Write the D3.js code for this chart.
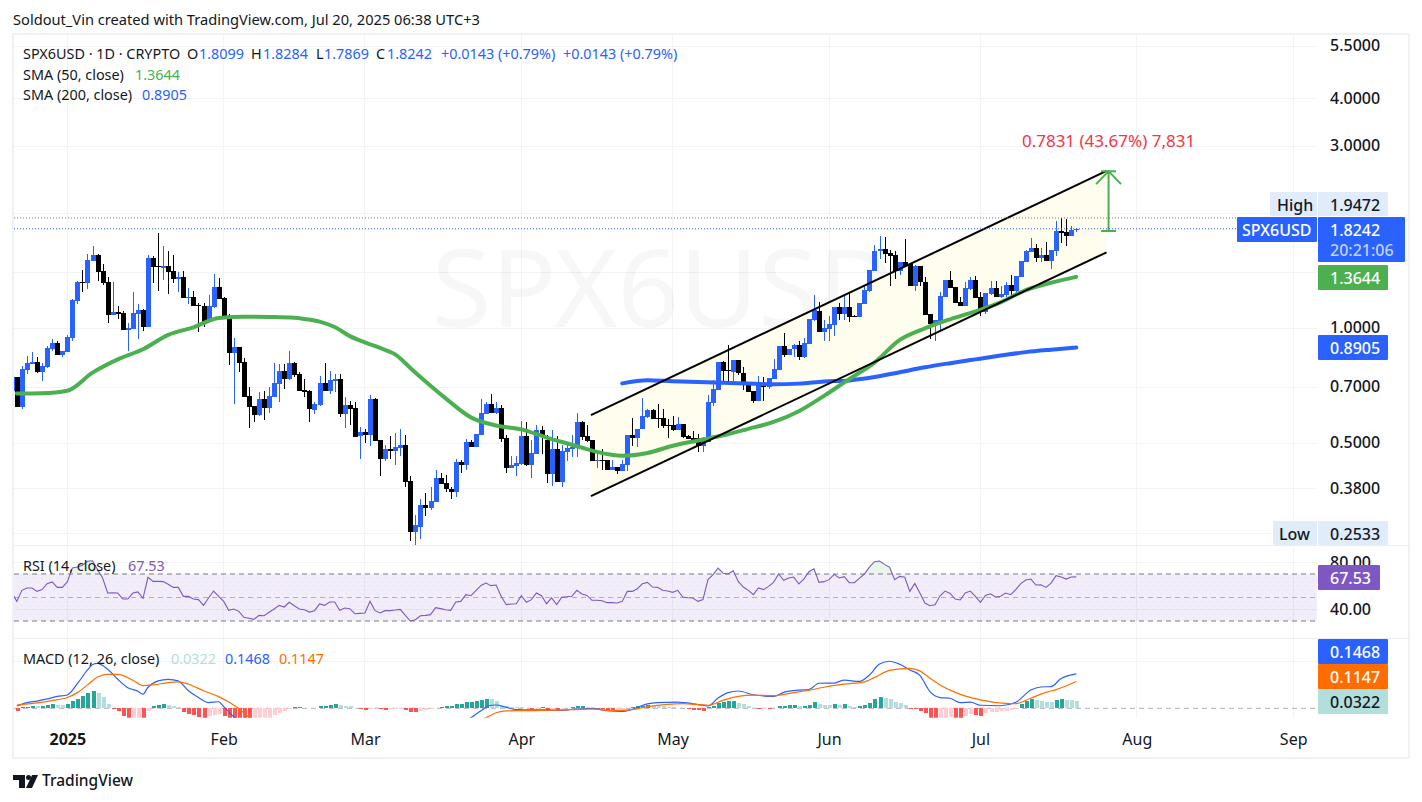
<!DOCTYPE html>
<html>
<head>
<meta charset="utf-8">
<title>SPX6USD</title>
<script src="https://cdn.jsdelivr.net/npm/d3@7"></script>
<style>
  html, body { margin: 0; padding: 0; background: #fff; }
  svg { display: block; }
  text { font-family: "Noto Sans", sans-serif; fill: #131722; }
</style>
</head>
<body>
<svg id="chart" width="1422" height="802"></svg>
<script>
// daily candles, Dec 21 2024 to Jul 20 2025
const firstCandle = new Date(Date.UTC(2024, 11, 21));

const opens = [
  .686,.747,.623,.779,.808,.816,.768,.791,.882,.915,
  .853,.867,.945,1.179,1.323,1.315,1.504,1.556,1.413,1.323,
  1.084,1.103,1.097,.992,.996,1.090,1.117,1.008,1.529,1.457,
  1.440,1.457,1.413,1.347,1.362,1.201,1.208,1.151,1.144,1.045,
  1.137,1.283,1.201,1.057,.861,.893,.816,.665,.626,.592,
  .653,.618,.660,.714,.773,.736,.811,.759,.689,.685,
  .611,.629,.719,.685,.728,.736,.596,.629,.618,.522,
  .534,.525,.653,.510,.455,.483,.477,.486,.495,.398,
  .293,.302,.343,.337,.350,.406,.394,.380,.371,.447,
  .438,.504,.489,.525,.596,.633,.599,.618,.516,.431,
  .436,.441,.522,.438,.469,.541,.510,.415,.483,.396,
  .474,.483,.486,.568,.522,.510,.449,.452,.452,.426,
  .433,.423,.438,.525,.516,.544,.585,.611,.582,.582,
  .557,.557,.541,.561,.522,.516,.516,.492,.504,.637,
  .689,.816,.777,.768,.826,.763,.714,.685,.645,.719,
  .702,.736,.777,.899,.851,.882,.904,.841,.909,1.051,
  1.110,.978,.996,1.020,1.139,1.090,1.139,1.077,1.073,1.158,
  1.253,1.413,1.595,1.614,1.575,1.556,1.413,1.492,1.474,1.291,
  1.457,1.323,1.090,1.026,1.045,1.208,1.338,1.283,1.171,1.144,
  1.268,1.338,1.208,1.103,1.230,1.276,1.208,1.223,1.299,1.253,
  1.362,1.492,1.585,1.624,1.529,1.556,1.501,1.595,1.799,1.788,
  1.746,1.8099
];
const highs = [
  .747,.747,.798,.848,.867,.841,.809,.899,.936,.926,
  .872,.961,1.193,1.331,1.422,1.566,1.644,1.566,1.474,1.362,
  1.323,1.144,1.110,1.032,1.245,1.158,1.124,1.556,1.547,1.779,
  1.644,1.595,1.556,1.405,1.413,1.276,1.253,1.165,1.165,1.223,
  1.388,1.354,1.208,1.090,.943,.893,.836,.702,.626,.681,
  .685,.702,.811,.806,.806,.872,.816,.768,.736,.689,
  .641,.750,.811,.773,.759,.759,.660,.645,.641,.551,
  .544,.668,.657,.510,.495,.522,.531,.544,.525,.411,
  .323,.356,.369,.383,.426,.418,.413,.384,.455,.452,
  .513,.510,.528,.653,.641,.672,.641,.629,.525,.463,
  .463,.571,.568,.510,.557,.554,.525,.541,.522,.495,
  .495,.525,.599,.571,.557,.510,.480,.483,.452,.452,
  .433,.452,.525,.582,.544,.657,.615,.615,.633,.615,
  .579,.588,.585,.561,.525,.538,.528,.519,.668,.732,
  .816,.821,.904,.826,.826,.791,.714,.685,.750,.745,
  .741,.831,.899,.972,.882,.909,.926,.943,1.057,1.223,
  1.171,1.051,1.077,1.139,1.163,1.223,1.235,1.084,1.163,1.299,
  1.422,1.654,1.742,1.732,1.604,1.595,1.492,1.715,1.474,1.465,
  1.457,1.362,1.090,1.051,1.245,1.338,1.413,1.283,1.208,1.323,
  1.362,1.370,1.245,1.238,1.331,1.331,1.291,1.323,1.379,1.370,
  1.501,1.604,1.725,1.664,1.624,1.684,1.604,1.911,1.9472,1.935,
  1.854,1.8284
];
const lows = [
  .686,.623,.616,.757,.808,.765,.729,.785,.873,.853,
  .841,.867,.928,1.158,1.245,1.268,1.501,1.331,1.299,1.035,
  1.084,1.057,.990,.872,.996,.936,.984,1.008,1.315,1.253,
  1.338,1.230,1.315,1.245,1.201,1.158,1.144,.978,1.008,1.045,
  1.130,1.193,1.057,.801,.633,.768,.660,.547,.568,.589,
  .575,.600,.660,.641,.693,.732,.745,.685,.660,.568,
  .596,.626,.685,.672,.681,.585,.547,.557,.519,.455,
  .501,.492,.507,.411,.449,.455,.438,.463,.384,.276,
  .2533,.281,.321,.333,.350,.391,.371,.356,.360,.418,
  .426,.489,.489,.525,.596,.599,.596,.504,.418,.431,
  .411,.438,.436,.406,.469,.469,.394,.387,.396,.383,
  .449,.460,.460,.510,.504,.449,.431,.426,.426,.426,
  .415,.423,.423,.490,.489,.544,.582,.579,.547,.547,
  .516,.538,.541,.516,.513,.510,.474,.474,.504,.626,
  .689,.723,.719,.723,.755,.689,.681,.637,.645,.645,
  .693,.736,.777,.840,.851,.840,.826,.835,.909,1.045,
  .978,.926,.926,.955,1.051,1.051,1.041,1.071,1.073,1.158,
  1.245,1.413,1.516,1.487,1.291,1.347,1.379,1.457,1.291,1.253,
  1.291,1.084,.936,.926,.978,1.208,1.276,1.165,1.144,1.144,
  1.260,1.201,1.077,1.090,1.223,1.208,1.201,1.208,1.223,1.230,
  1.362,1.492,1.585,1.492,1.492,1.501,1.431,1.547,1.670,1.644,
  1.746,1.7869
];
const closes = [
  .747,.623,.782,.811,.816,.768,.796,.888,.915,.853,
  .872,.949,1.188,1.323,1.317,1.510,1.556,1.405,1.315,1.084,
  1.103,1.090,.990,1.002,1.097,1.117,1.008,1.529,1.451,1.448,
  1.457,1.405,1.347,1.362,1.201,1.208,1.144,1.144,1.039,1.144,
  1.283,1.193,1.070,.861,.893,.811,.660,.622,.592,.653,
  .618,.665,.719,.773,.736,.811,.755,.685,.681,.615,
  .633,.719,.685,.732,.736,.596,.629,.615,.519,.534,
  .525,.653,.507,.455,.483,.477,.489,.495,.396,.293,
  .304,.343,.337,.352,.406,.391,.378,.371,.447,.438,
  .504,.489,.528,.599,.633,.599,.618,.513,.431,.438,
  .444,.522,.438,.472,.541,.525,.415,.483,.396,.477,
  .486,.489,.568,.519,.507,.449,.452,.449,.426,.432,
  .423,.441,.525,.516,.544,.588,.611,.579,.579,.554,
  .554,.541,.561,.519,.513,.510,.492,.516,.641,.693,
  .816,.773,.773,.826,.762,.710,.681,.645,.719,.702,
  .741,.782,.899,.851,.882,.904,.841,.915,1.057,1.117,
  .978,1.000,1.026,1.139,1.090,1.139,1.073,1.071,1.163,1.260,
  1.422,1.595,1.614,1.566,1.547,1.413,1.492,1.457,1.291,1.457,
  1.320,1.084,1.026,1.051,1.215,1.338,1.276,1.165,1.144,1.276,
  1.338,1.201,1.124,1.238,1.276,1.208,1.230,1.299,1.253,1.370,
  1.501,1.595,1.624,1.529,1.556,1.501,1.604,1.799,1.778,1.746,
  1.810,1.8242
];

// one value per candle
const rsiValues = [
  53.8,46.7,56.1,58.1,58.1,55.2,56.7,61.8,63.2,58.6,
  58.6,63.2,75.1,75.9,77.4,80.8,81.3,73.7,66.6,53.8,
  54.1,53.8,48.7,48.7,53.8,54.7,49.3,67.2,63.7,63.7,
  63.5,61.2,58.6,58.6,51,51,48.7,48.2,43.3,49.6,
  55.5,51,46.7,39.1,40.2,38.2,33.1,32.3,31.4,34.8,
  34.5,37.4,40.2,43.3,41.9,45.9,43,40.2,39.6,37.6,
  38.8,44.5,43.3,46.2,46.2,39.1,41,40.5,36.2,36.5,
  36.8,46.7,38.8,36.8,38.8,38.8,39.3,39.9,34.8,30,
  31.1,34.5,34.8,35.4,41.3,40.5,39.6,39.1,46.2,46.7,
  52.4,51.5,55.8,60.3,62.3,60.1,60.6,51,43.9,44.5,
  44.7,51.5,45.9,48.2,53.8,51.5,44.7,49.6,43.9,50.1,
  50.7,51,56.1,53,51.8,47.6,47.6,47.3,45.6,45.6,
  45.3,46.7,55.2,55.2,57.5,61.8,62.9,58.9,58.6,56.1,
  55.5,54.4,56.1,50.4,49.8,49.6,46.7,48.2,65.2,69.4,
  75.1,70.6,70,72.8,63.7,58.9,56.1,52.4,58.1,56.7,
  59.5,62.9,70,64.6,66.6,67.4,61.5,65.7,72,74.5,
  62.9,63.5,65.2,69.7,66.6,67.7,62.6,62.6,66.3,70,
  75.9,80.5,81,78.2,75.7,65.2,68,67.2,55.2,62,
  53.8,45.3,43,43.9,51.5,55.5,53.5,48.7,47.9,53.8,
  55.5,51,45.9,51.8,53.2,50.4,51,53.8,52.4,56.7,
  61.8,64.9,65.7,60.6,60.9,58.6,62.3,68.6,67.4,65.7,
  67.4,67.53
];
const histValues = [
  0,-.011,.004,.006,.010,.009,.011,.013,.017,.016,
  .014,.019,.030,.041,.054,.067,.074,.067,.048,.019,
  -.002,-.011,-.031,-.045,-.042,-.040,-.05,-.012,.010,.014,
  .019,.016,.010,.004,-.014,-.023,-.028,-.037,-.042,-.031,
  -.028,-.026,-.031,-.05,-.06,-.07,-.08,-.09,-.08,-.07,
  -.06,-.05,-.029,-.021,-.011,-.002,.004,.006,.003,.003,
  .002,.010,.011,.014,.019,.013,.010,.009,.002,-.004,
  -.007,-.002,.003,-.005,-.006,-.003,-.002,-.001,-.006,-.015,
  -.016,-.012,-.008,-.004,.001,.004,.008,.010,.019,.020,
  .027,.028,.031,.037,.040,.039,.031,.011,.008,.007,
  .005,.004,.001,-.004,-.001,.006,-.006,-.005,-.008,-.003,
  .001,.004,.008,.009,.007,.004,-.002,-.004,-.008,-.009,
  -.008,-.006,.003,.005,.008,.011,.015,.011,.009,.008,
  .006,.005,.003,.002,-.003,-.006,-.009,-.012,.005,.010,
  .021,.029,.030,.031,.021,.017,.010,.002,-.001,-.001,
  -.004,.002,.010,.011,.013,.014,.009,.010,.016,.027,
  .018,.016,.015,.019,.016,.017,.008,.006,.009,.014,
  .023,.040,.047,.046,.040,.029,.021,.013,-.001,-.005,
  -.011,-.021,-.040,-.042,-.041,-.040,-.039,-.042,-.045,-.035,
  -.024,-.028,-.032,-.019,-.016,-.014,-.012,-.010,-.008,-.001,
  .017,.030,.040,.034,.031,.028,.027,.036,.039,.035,
  .034,.0322
];

// lines read at sample days, counted from Jan 1 2025
const sma50Days = [-10,-5,0,5,10,15,20,25,30,35,40,45,47,50,53,56,59,62,65,68,70,75,80,85,90,95,100,103,105,110,115,120,125,130,135,140,145,150,155,160,165,170,175,180,185,190,195,200];
const sma50Values = [.675,.676,.686,.765,.829,.881,.961,1.006,1.064,1.073,1.071,1.066,1.058,1.041,1.008,.954,.918,.888,.854,.787,.745,.655,.584,.556,.543,.517,.495,.482,.474,.463,.471,.492,.508,.524,.545,.568,.606,.665,.736,.813,.932,1.000,1.056,1.107,1.170,1.260,1.317,1.3644];

const sma200Days = [110,115,120,125,130,135,140,145,150,155,160,165,170,175,180,185,190,195,200];
const sma200Values = [.717,.731,.726,.723,.720,.716,.713,.716,.725,.730,.745,.767,.790,.810,.829,.848,.866,.879,.8905];

const macdDays = [-10,-8,-6,-4,-2,0,2,4,5,6,8,10,12,14,15,16,18,20,22,24,26,28,30,31,33,35,40,45,50,55,60,65,70,75,78,80,82,84,85,87,89,92,95,98,100,104,107,110,112,115,117,121,125,127,129,131,133,136,140,142,145,147,149,152,154,157,159,161,163,165,167,169,171,173,175,177,179,181,185,188,191,193,195,197,200];
const macdValues = [.010,.024,.031,.040,.051,.057,.105,.164,.187,.192,.167,.124,.088,.073,.060,.090,.117,.124,.117,.075,.046,.024,.028,.007,-.036,-.071,-.12,-.13,-.12,-.11,-.11,-.10,-.11,-.09,-.06,-.040,-.010,.013,.014,.004,-.006,-.007,-.007,-.009,-.004,-.001,-.010,-.013,-.004,.019,.024,.026,.016,.010,.044,.067,.074,.058,.051,.068,.078,.080,.107,.108,.120,.115,.142,.189,.201,.188,.164,.141,.071,.046,.043,.024,.026,.013,.011,.026,.078,.091,.093,.127,.1468];

const signalDays = [-10,-6,-3,0,2,4,6,8,10,13,15,17,20,22,24,27,30,32,34,36,40,45,50,60,70,75,80,83,85,87,90,95,100,104,108,112,115,119,122,127,130,133,136,140,144,147,150,154,158,160,163,167,169,171,173,176,181,186,188,191,194,196,200];
const signalValues = [.014,.023,.033,.046,.067,.100,.134,.145,.145,.120,.097,.100,.110,.113,.103,.075,.050,.027,-.001,-.038,-.09,-.11,-.11,-.105,-.10,-.09,-.06,-.04,-.019,-.011,-.010,-.009,-.006,-.003,-.010,-.006,.007,.017,.020,.013,.034,.051,.056,.054,.067,.077,.090,.103,.113,.132,.162,.171,.160,.128,.100,.068,.036,.021,.020,.044,.068,.080,.1147];

// drawing: rising channel and the measured arrow
const channelDays = [103.8, 206];
const channelUpper = [.592, 2.586];
const channelLower = [.363, 1.582];
const arrowDay = 206.4;
const arrowBase = 1.80;
const arrowTip = 2.583;

const priceTicks = [5.5, 4, 3, 1, .7, .5, .38];
const priceGrid = [5.5, 4, 3, 2, 1.4, 1, .7, .5, .38, .29];
const monthStarts = [0, 1, 2, 3, 4, 5, 6, 7, 8].map((m) => new Date(Date.UTC(2025, m, 1)));
const monthLabels = ['2025', 'Feb', 'Mar', 'Apr', 'May', 'Jun', 'Jul', 'Aug', 'Sep'];

const lastClose = 1.8242;
const highValue = 1.9472;

const blue = '#2962ff';
const green = '#4caf50';
const purple = '#7e57c2';
const orange = '#ff6d00';
const paleTeal = '#b2dfdb';
const gridColor = '#f2f3f5';

const plotLeft = 14;
const plotRight = 1317;
const mainPane = { top: 35, bottom: 545 };
const rsiPane = { top: 546, bottom: 638 };
const macdPane = { top: 639, bottom: 717.7 };

const svg = d3.select('#chart');
const defs = svg.append('defs');

const x = d3.scaleUtc().domain([monthStarts[0], monthStarts[8]]).range([67.3, 1293.2]);
const y = d3.scaleLog().domain([1, 5.5]).range([328.3, 46]);
const rsiY = d3.scaleLinear().domain([30, 70]).range([621, 574]);
const macdY = d3.scaleLinear().domain([0, .2]).range([708.3, 661.5]);

// d3.utcDay.offset drops fractions, the channel ends fall between days
const dayDate = (d) => new Date(+monthStarts[0] + d * 864e5);
const candleDate = (i) => d3.utcDay.offset(firstCandle, i);

function addClip(id, pane) {
  defs.append('clipPath').attr('id', id)
    .append('rect')
    .attr('x', plotLeft).attr('y', pane.top)
    .attr('width', plotRight - plotLeft).attr('height', pane.bottom - pane.top);
}
addClip('clip-main', mainPane);
addClip('clip-rsi', rsiPane);
addClip('clip-macd', macdPane);

const dots = defs.append('pattern').attr('id', 'rsi-dots')
  .attr('width', 8).attr('height', 8).attr('patternUnits', 'userSpaceOnUse');
dots.append('circle').attr('cx', 2).attr('cy', 2).attr('r', .6).attr('fill', '#7e57c2').attr('opacity', .18);
dots.append('circle').attr('cx', 6).attr('cy', 6).attr('r', .6).attr('fill', '#7e57c2').attr('opacity', .18);

function hLine(group, yPos, color, dash, x2) {
  return group.append('line')
    .attr('x1', plotLeft).attr('x2', x2 || plotRight)
    .attr('y1', yPos).attr('y2', yPos)
    .attr('stroke', color).attr('stroke-width', 1)
    .attr('stroke-dasharray', dash || null);
}

function label(str, px, py, opts) {
  const o = opts || {};
  return svg.append('text')
    .attr('x', px).attr('y', py)
    .attr('text-anchor', o.anchor || 'start')
    .attr('font-size', o.size || 14.4)
    .attr('font-weight', o.weight || 400)
    .style('fill', o.fill || '#131722')
    .text(str);
}

// grid
const grid = svg.append('g').attr('shape-rendering', 'crispEdges');
priceGrid.forEach((v) => hLine(grid, y(v), gridColor));
[80, 40].forEach((v) => hLine(grid, rsiY(v), gridColor));
hLine(grid, macdY(.2), gridColor);
grid.selectAll('line.month')
  .data(monthStarts)
  .enter()
  .append('line')
  .attr('class', 'month')
  .attr('x1', (d) => x(d)).attr('x2', (d) => x(d))
  .attr('y1', mainPane.top).attr('y2', macdPane.bottom)
  .attr('stroke', gridColor);

// frame and pane separators
const frame = svg.append('g').attr('shape-rendering', 'crispEdges');
frame.append('rect')
  .attr('x', 13).attr('y', 34).attr('width', 1396).attr('height', 723.5)
  .attr('fill', 'none').attr('stroke', '#f0f1f3').attr('stroke-width', 2);
[mainPane.bottom, rsiPane.bottom].forEach((v) => hLine(frame, v, '#eceef1', null, 1409));

// watermark
label('SPX6USD', 664, 327, { anchor: 'middle', size: 108, fill: 'rgba(19,23,34,0.035)' });

// channel fill
const channelPoints = channelDays.map((d, i) => [x(dayDate(d)), y(channelUpper[i])])
  .concat(channelDays.map((d, i) => [x(dayDate(d)), y(channelLower[i])]).reverse());
svg.append('path')
  .attr('d', d3.line()(channelPoints) + 'Z')
  .attr('fill', '#fffdee');

// candles
const candles = opens.map((o, i) => ({
  date: candleDate(i), open: o, high: highs[i], low: lows[i], close: closes[i]
}));
const candleLayer = svg.append('g')
  .attr('clip-path', 'url(#clip-main)')
  .attr('shape-rendering', 'crispEdges');
const candleColor = (d) => (d.close >= d.open ? blue : '#000000');

candleLayer.selectAll('line')
  .data(candles)
  .enter()
  .append('line')
  .attr('x1', (d) => Math.round(x(d.date)) + .5)
  .attr('x2', (d) => Math.round(x(d.date)) + .5)
  .attr('y1', (d) => y(d.high))
  .attr('y2', (d) => y(d.low))
  .attr('stroke', candleColor);

candleLayer.selectAll('rect')
  .data(candles)
  .enter()
  .append('rect')
  .attr('x', (d) => Math.round(x(d.date)) - 2)
  .attr('width', 5)
  .attr('y', (d) => y(Math.max(d.open, d.close)))
  .attr('height', (d) => Math.max(1, Math.abs(y(d.open) - y(d.close))))
  .attr('fill', candleColor);

// moving averages
const priceLine = d3.line()
  .x((d) => x(dayDate(d[0])))
  .y((d) => y(d[1]))
  .curve(d3.curveMonotoneX);

const mainLines = svg.append('g').attr('clip-path', 'url(#clip-main)').attr('fill', 'none');
mainLines.append('path')
  .attr('d', priceLine(d3.zip(sma200Days, sma200Values)))
  .attr('stroke', blue).attr('stroke-width', 4).attr('stroke-linecap', 'round');
mainLines.append('path')
  .attr('d', priceLine(d3.zip(sma50Days, sma50Values)))
  .attr('stroke', green).attr('stroke-width', 4).attr('stroke-linecap', 'round');

// channel lines
[channelUpper, channelLower].forEach((edge) => {
  mainLines.append('line')
    .attr('x1', x(dayDate(channelDays[0]))).attr('y1', y(edge[0]))
    .attr('x2', x(dayDate(channelDays[1]))).attr('y2', y(edge[1]))
    .attr('stroke', '#000000').attr('stroke-width', 2);
});

// measured arrow
const arrowX = x(dayDate(arrowDay));
const tipY = y(arrowTip);
const baseY = y(arrowBase);
const arrowPath = d3.path();
arrowPath.moveTo(arrowX, tipY);
arrowPath.lineTo(arrowX, baseY);
arrowPath.moveTo(arrowX - 7.5, baseY);
arrowPath.lineTo(arrowX + 7.5, baseY);
arrowPath.moveTo(arrowX - 7.5, tipY);
arrowPath.lineTo(arrowX + 7.5, tipY);
arrowPath.moveTo(arrowX - 12.5, tipY + 13);
arrowPath.lineTo(arrowX, tipY);
arrowPath.lineTo(arrowX + 12.5, tipY + 13);
svg.append('path')
  .attr('d', arrowPath.toString())
  .attr('fill', 'none').attr('stroke', green).attr('stroke-width', 2);
label('0.7831 (43.67%) 7,831', arrowX, 147, { anchor: 'middle', size: 17, fill: '#f23645' });

// high and last price lines
hLine(svg, y(highValue), '#787b86', '1 2');
hLine(svg, y(lastClose), blue, '1 2');

// RSI pane
const rsiLayer = svg.append('g').attr('clip-path', 'url(#clip-rsi)');
rsiLayer.append('rect')
  .attr('x', plotLeft).attr('width', plotRight - plotLeft)
  .attr('y', rsiY(70)).attr('height', rsiY(30) - rsiY(70))
  .attr('fill', 'rgba(126,87,194,0.1)');
rsiLayer.append('rect')
  .attr('x', plotLeft).attr('width', plotRight - plotLeft)
  .attr('y', rsiY(70)).attr('height', rsiY(30) - rsiY(70))
  .attr('fill', 'url(#rsi-dots)');
hLine(rsiLayer, rsiY(70), '#787b86', '5 4');
hLine(rsiLayer, rsiY(50), '#adb0b8', '5 4');
hLine(rsiLayer, rsiY(30), '#787b86', '5 4');

defs.append('clipPath').attr('id', 'clip-over')
  .append('rect')
  .attr('x', plotLeft).attr('y', rsiPane.top)
  .attr('width', plotRight - plotLeft).attr('height', rsiY(70) - rsiPane.top);
rsiLayer.append('path')
  .datum(rsiValues)
  .attr('clip-path', 'url(#clip-over)')
  .attr('fill', 'rgba(76,175,80,0.13)')
  .attr('d', d3.area()
    .x((d, i) => x(candleDate(i)))
    .y0(rsiY(70))
    .y1((d) => rsiY(d)));
rsiLayer.append('path')
  .datum(rsiValues)
  .attr('fill', 'none')
  .attr('stroke', purple).attr('stroke-width', 1.1)
  .attr('d', d3.line()
    .x((d, i) => x(candleDate(i)))
    .y((d) => rsiY(d)));

// MACD pane
const macdLayer = svg.append('g').attr('clip-path', 'url(#clip-macd)');
hLine(macdLayer, macdY(0), '#adb0b8', '5 4');

const histColor = (v, i) => {
  const prev = i > 0 ? histValues[i - 1] : 0;
  if (v >= 0) return v > prev ? '#26a69a' : paleTeal;
  return v < prev ? '#ff5252' : '#ffcdd2';
};
macdLayer.append('g')
  .attr('shape-rendering', 'crispEdges')
  .selectAll('rect')
  .data(histValues)
  .enter()
  .append('rect')
  .attr('x', (d, i) => Math.round(x(candleDate(i))) - 1.5)
  .attr('width', 4)
  .attr('y', (d) => Math.min(macdY(d), macdY(0)))
  .attr('height', (d) => Math.abs(macdY(d) - macdY(0)))
  .attr('fill', histColor);

const macdLine = d3.line()
  .x((d) => x(dayDate(d[0])))
  .y((d) => macdY(d[1]))
  .curve(d3.curveMonotoneX);
macdLayer.append('path')
  .attr('d', macdLine(d3.zip(macdDays, macdValues)))
  .attr('fill', 'none').attr('stroke', blue).attr('stroke-width', 1.2);
macdLayer.append('path')
  .attr('d', macdLine(d3.zip(signalDays, signalValues)))
  .attr('fill', 'none').attr('stroke', orange).attr('stroke-width', 1.2);

// axes
const axisText = (g, size) => {
  g.select('.domain').remove();
  g.selectAll('text').attr('font-size', size).attr('font-weight', 500).style('fill', '#131722');
};
const priceAxis = d3.axisRight(y)
  .tickValues(priceTicks)
  .tickSize(0).tickPadding(12)
  .tickFormat(d3.format('.4f'));
svg.append('g')
  .attr('transform', `translate(${plotRight + 1},-0.5)`)
  .call(priceAxis)
  .call(axisText, 16);

const rsiAxis = d3.axisRight(rsiY)
  .tickValues([80, 40])
  .tickSize(0).tickPadding(12)
  .tickFormat(d3.format('.2f'));
svg.append('g')
  .attr('transform', `translate(${plotRight + 1},0)`)
  .call(rsiAxis)
  .call(axisText, 16);

const timeAxis = d3.axisBottom(x)
  .tickValues(monthStarts)
  .tickSize(0).tickPadding(12)
  .tickFormat((d, i) => monthLabels[i]);
const timeG = svg.append('g')
  .attr('transform', 'translate(0,722)')
  .call(timeAxis)
  .call(axisText, 16);
timeG.selectAll('text').attr('font-weight', (d, i) => (i === 0 ? 700 : 400));

// price badges
function badge(left, width, top, height, fill, text, textColor, textX) {
  svg.append('rect')
    .attr('x', left).attr('y', top).attr('width', width).attr('height', height)
    .attr('rx', 1)
    .attr('fill', fill);
  if (text) {
    label(text, textX, top + 19, { size: 16, weight: 500, fill: textColor });
  }
}
const valueX = 1330;
const softBlue = '#e1ecfb';

badge(1270, 47, 192, 24, softBlue, 'High', '#131722', 1277);
badge(1318, 70, 192, 24, softBlue, '1.9472', '#131722', valueX);
badge(1237, 80, 217, 25, blue, 'SPX6USD', '#ffffff', 1242);
badge(1318, 87, 217, 45, blue, '1.8242', '#ffffff', valueX);
label('20:21:06', valueX, 256, { size: 16, weight: 500, fill: 'rgba(255,255,255,0.72)' });
badge(1318, 70, 265, 25, green, '1.3644', '#ffffff', valueX);
badge(1318, 70, 335, 25, blue, '0.8905', '#ffffff', valueX);
badge(1273, 44, 521, 24, softBlue, 'Low', '#131722', 1279);
badge(1318, 70, 521, 24, softBlue, '0.2533', '#131722', valueX);
badge(1318, 62, 565, 25, purple, '67.53', '#ffffff', valueX);
badge(1318, 70, 639, 25, blue, '0.1468', '#ffffff', valueX);
badge(1318, 70, 664, 25, orange, '0.1147', '#ffffff', valueX);
badge(1318, 70, 689, 25, paleTeal, '0.0322', '#131722', valueX);

// title and legends
label('Soldout_Vin created with TradingView.com, Jul 20, 2025 06:38 UTC+3', 13, 25, { size: 14.65 });

label('SPX6USD · 1D · CRYPTO', 23, 59);
const ohlcLabels = [['O', 187, '1.8099', 199], ['H', 251, '1.8284', 263], ['L', 316, '1.7869', 324], ['C', 376, '1.8242', 387]];
ohlcLabels.forEach((row) => {
  label(row[0], row[1], 59);
  label(row[2], row[3], 59, { fill: blue });
});
label('+0.0143 (+0.79%)', 441, 59, { fill: blue });
label('+0.0143 (+0.79%)', 563, 59, { fill: blue });

label('SMA (50, close)', 23, 80);
label('1.3644', 135, 80, { fill: green });
label('SMA (200, close)', 23, 100);
label('0.8905', 142, 100, { fill: blue });

label('RSI (14, close)', 23, 571);
label('67.53', 128, 571, { fill: purple });

label('MACD (12, 26, close)', 23, 664);
label('0.0322', 171, 664, { fill: paleTeal });
label('0.1468', 225, 664, { fill: blue });
label('0.1147', 279, 664, { fill: orange });

// footer logo
const logo = svg.append('g').attr('fill', '#131722');
logo.append('path').attr('d', 'M13 775H25V788H19V780H13Z');
logo.append('circle').attr('cx', 28.5).attr('cy', 777.5).attr('r', 2.5);
logo.append('path').attr('d', 'M32 775H38L32 788H26Z');
label('TradingView', 42, 786, { size: 15.5, weight: 500 });
</script>
</body>
</html>
